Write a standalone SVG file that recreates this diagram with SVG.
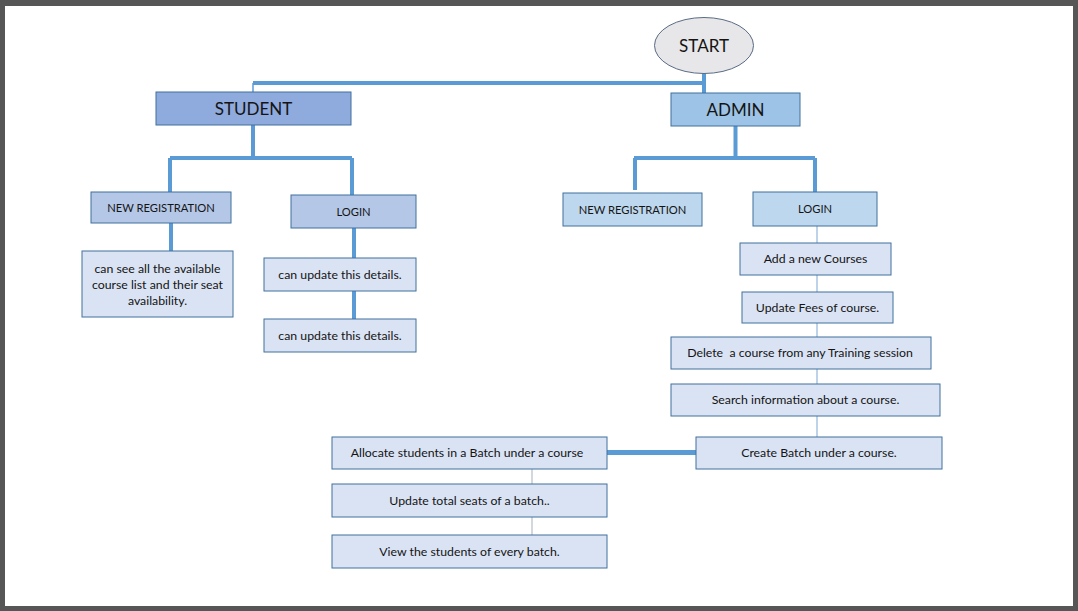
<svg xmlns="http://www.w3.org/2000/svg" width="1078" height="611" viewBox="0 0 1078 611">
<style>
.bx{stroke:#41719c;stroke-width:1}
.b1{fill:#8faadc}.b2{fill:#9dc3e6}.b3{fill:#b4c7e7}.b4{fill:#bdd7ee}.b5{fill:#dae3f3}
text{font-family:Lato,"Open Sans","Liberation Sans",sans-serif;fill:#141414;text-anchor:middle}
.h{font-size:17px}.s{font-size:11.2px}.t{font-size:12.3px}
.thick{stroke:#5b9bd5;stroke-width:4;fill:none}
.thin{stroke:#a9c5e2;stroke-width:1.5;fill:none}
.gray{stroke:#c4cbd3;stroke-width:1.5;fill:none}
</style>
<rect x="0" y="0" width="1078" height="611" fill="#565656"/>
<rect x="5" y="6" width="1068" height="600" fill="#ffffff"/>
<g id="connectors">
<path class="thick" d="M253,83 H704 M704,73 V93"/>
<path d="M253,83 V92" stroke="#5b9bd5" stroke-width="1.5" fill="none"/>
<path class="thick" d="M253,125 V158 M170,158 H352 M170,158 V192 M352,158 V195"/>
<path class="thick" d="M735.5,126 V158 M634,158 H815 M635,158 V190 M815,158 V193"/>
<path class="thick" d="M171,223 V251 M354,228 V258 M354,291 V319"/>
<path class="thin" d="M817,226 V243 M817,275 V292 M817,323 V337 M817,369 V384 M817,416 V437"/>
<path d="M607,452.5 H696" stroke="#5b9bd5" stroke-width="5" fill="none"/>
<path class="gray" d="M532,469 V484 M532,517 V535"/>
</g>
<g id="start"><ellipse cx="704" cy="45.5" rx="49.5" ry="28" fill="#e7e6e8" stroke="#5a6b86" stroke-width="1"/><text class="h" x="704" y="51.5">START</text></g>
<g id="student"><rect class="bx b1" x="156" y="92" width="195" height="33"/><text class="h" x="253.5" y="114.5">STUDENT</text></g>
<g id="admin"><rect class="bx b2" x="671" y="93" width="129" height="33"/><text class="h" x="735.5" y="115.5">ADMIN</text></g>
<g id="s-newreg"><rect class="bx b3" x="91" y="192" width="140" height="31"/><text class="s" x="161" y="211.5">NEW REGISTRATION</text></g>
<g id="s-login"><rect class="bx b3" x="291" y="195" width="125" height="33"/><text class="s" x="353.5" y="215.5">LOGIN</text></g>
<g id="a-newreg"><rect class="bx b4" x="563" y="193" width="139" height="33"/><text class="s" x="632.5" y="213.5">NEW REGISTRATION</text></g>
<g id="a-login"><rect class="bx b4" x="753" y="192" width="124" height="34"/><text class="s" x="815" y="213">LOGIN</text></g>
<g id="s-see"><rect class="bx b5" x="82" y="251" width="151" height="66"/><text class="t" x="157.5" y="273">can see all the available</text><text class="t" x="157.5" y="289">course list and their seat</text><text class="t" x="157.5" y="305">availability.</text></g>
<g id="s-upd1"><rect class="bx b5" x="264" y="258" width="152" height="33"/><text class="t" x="340" y="278.5">can update this details.</text></g>
<g id="s-upd2"><rect class="bx b5" x="264" y="319" width="152" height="33"/><text class="t" x="340" y="339.5">can update this details.</text></g>
<g id="a-add"><rect class="bx b5" x="740" y="243" width="151" height="32"/><text class="t" x="815.5" y="263">Add a new Courses</text></g>
<g id="a-fees"><rect class="bx b5" x="742" y="292" width="151" height="31"/><text class="t" x="817.5" y="311.5">Update Fees of course.</text></g>
<g id="a-delete"><rect class="bx b5" x="671" y="337" width="260" height="32"/><text class="t" x="800" y="357" xml:space="preserve">Delete  a course from any Training session</text></g>
<g id="a-search"><rect class="bx b5" x="671" y="384" width="269" height="32"/><text class="t" x="805.5" y="404">Search information about a course.</text></g>
<g id="a-batch"><rect class="bx b5" x="696" y="437" width="246" height="32"/><text class="t" x="819" y="457">Create Batch under a course.</text></g>
<g id="allocate"><rect class="bx b5" x="332" y="437" width="275" height="32"/><text class="t" x="467" y="457">Allocate students in a Batch under a course</text></g>
<g id="seats"><rect class="bx b5" x="332" y="484" width="275" height="33"/><text class="t" x="469.5" y="504.5">Update total seats of a batch..</text></g>
<g id="view"><rect class="bx b5" x="332" y="535" width="275" height="33"/><text class="t" x="469.5" y="555.5">View the students of every batch.</text></g>
</svg>
